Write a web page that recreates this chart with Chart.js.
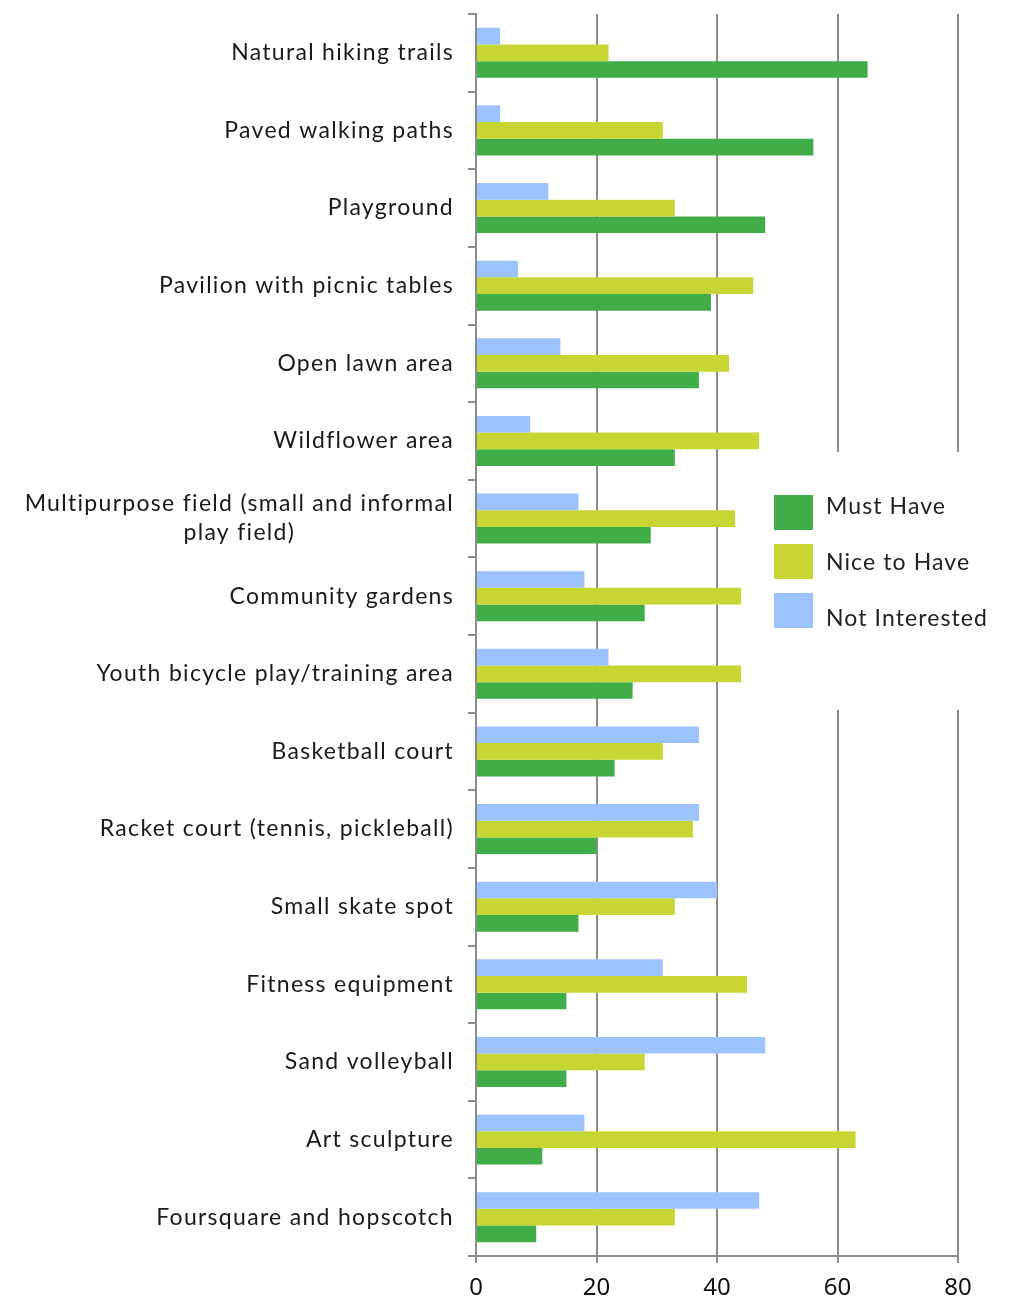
<!DOCTYPE html>
<html lang="en">
<head>
<meta charset="UTF-8">
<meta name="viewport" content="width=device-width, initial-scale=1.0">
<title>Park amenities</title>
<script src="https://cdn.jsdelivr.net/npm/chart.js"></script>
<style>
  html, body { margin: 0; padding: 0; background: #fff; }
  #wrap { width: 1023px; height: 1298px; }
</style>
</head>
<body>
<div id="wrap"><canvas id="myChart"></canvas></div>

<script>
// amenities, one entry per row (multi-line labels as arrays)
const categories = [
    ['Natural hiking trails'],
    ['Paved walking paths'],
    ['Playground'],
    ['Pavilion with picnic tables'],
    ['Open lawn area'],
    ['Wildflower area'],
    ['Multipurpose field (small and informal', 'play field)'],
    ['Community gardens'],
    ['Youth bicycle play/training area'],
    ['Basketball court'],
    ['Racket court (tennis, pickleball)'],
    ['Small skate spot'],
    ['Fitness equipment'],
    ['Sand volleyball'],
    ['Art sculpture'],
    ['Foursquare and hopscotch']
]

const mustHave      = [65, 56, 48, 39, 37, 33, 29, 28, 26, 23, 20, 17, 15, 15, 11, 10]
const niceToHave    = [22, 31, 33, 46, 42, 47, 43, 44, 44, 31, 36, 33, 45, 28, 63, 33]
const notInterested = [4, 4, 12, 7, 14, 9, 17, 18, 22, 37, 37, 40, 31, 48, 18, 47]

const xTicks = [0, 20, 40, 60, 80]

const GREEN = '#41ad49'
const YELLOW = '#c8d633'
const BLUE = '#9dc3ff'
const GRID = '#8c8c8c'
const LABEL_FONT = '23px Lato'
const LABEL_SPACING = '1.3px'

// legend entries, in the order they are listed
const legendItems = [
    { text: 'Must Have', color: GREEN },
    { text: 'Nice to Have', color: YELLOW },
    { text: 'Not Interested', color: BLUE }
]

// row labels: right-aligned block, lines centred within it
const rowLabels = {
    id: 'rowLabels',
    afterDraw(chart) {
        const ctx = chart.ctx
        const y = chart.scales.y
        ctx.save()
        ctx.font = LABEL_FONT
        ctx.letterSpacing = LABEL_SPACING
        ctx.fillStyle = '#1a1a1a'
        ctx.textAlign = 'left'
        ctx.textBaseline = 'middle'
        const right = chart.chartArea.left - 22
        categories.forEach((lines, i) => {
            const cy = y.getPixelForValue(i)
            const widths = lines.map(l => ctx.measureText(l).width)
            const w = Math.max(...widths)
            lines.forEach((l, j) => {
                const x = right - w + (w - widths[j]) / 2
                ctx.fillText(l, x, cy + (j - (lines.length - 1) / 2) * 29)
            })
        })
        ctx.restore()
    }
}

// legend sits on a white panel over the right side of the plot
const boxLegend = {
    id: 'boxLegend',
    afterDraw(chart) {
        const ctx = chart.ctx
        ctx.save()
        ctx.fillStyle = '#fff'
        ctx.fillRect(756, 452, 267, 258)
        ctx.font = LABEL_FONT
        ctx.letterSpacing = '1.1px'
        ctx.textBaseline = 'middle'
        const textY = [507, 563, 619]
        legendItems.forEach((item, i) => {
            const top = 495 + i * 49
            ctx.fillStyle = item.color
            ctx.fillRect(774, top, 39, 35)
            ctx.fillStyle = '#222'
            ctx.fillText(item.text, 826, textY[i])
        })
        ctx.restore()
    }
}

const ctx = document.getElementById('myChart')

new Chart(ctx, {
    type: 'bar',
    data: {
        labels: categories,
        datasets: [
            { label: 'Not Interested', data: notInterested, backgroundColor: BLUE },
            { label: 'Nice to Have', data: niceToHave, backgroundColor: YELLOW },
            { label: 'Must Have', data: mustHave, backgroundColor: GREEN }
        ]
    },
    options: {
        indexAxis: 'y',
        responsive: true,
        maintainAspectRatio: false,
        animation: false,
        layout: { padding: { top: 14, right: 65, bottom: 0, left: 0 } },
        datasets: {
            bar: { categoryPercentage: 0.645, barPercentage: 1.0 }
        },
        plugins: {
            legend: { display: false },
            tooltip: { enabled: false }
        },
        scales: {
            x: {
                min: 0,
                max: 80,
                afterBuildTicks: (scale) => { scale.ticks = xTicks.map(v => ({ value: v })) },
                afterFit: (scale) => { scale.height = 42 },
                grid: { color: GRID, lineWidth: 2, tickLength: 7, drawTicks: true },
                border: { color: GRID, width: 2 },
                ticks: {
                    color: '#111',
                    font: { family: 'Noto Sans', size: 24 },
                    padding: 11
                }
            },
            y: {
                afterFit: (scale) => { scale.width = 476 },
                grid: { offset: true, drawOnChartArea: false, color: GRID, lineWidth: 2, tickLength: 8 },
                border: { color: GRID, width: 2 },
                ticks: { display: false }
            }
        }
    },
    plugins: [rowLabels, boxLegend]
})
</script>
</body>
</html>
